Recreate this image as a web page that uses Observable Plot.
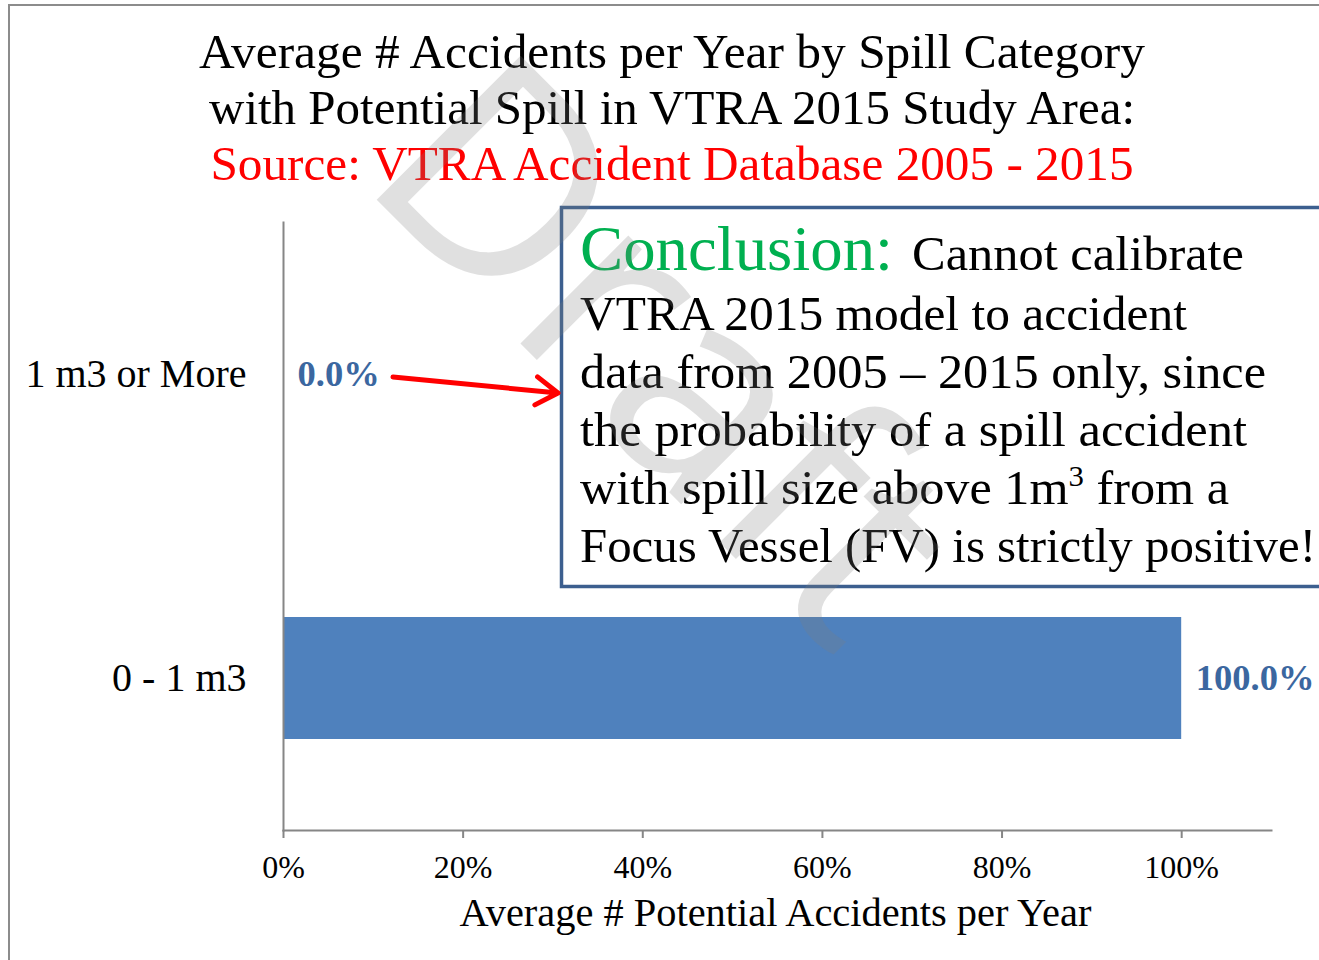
<!DOCTYPE html>
<html>
<head>
<meta charset="utf-8">
<script src="https://cdn.jsdelivr.net/npm/d3@7"></script>
<script src="https://cdn.jsdelivr.net/npm/@observablehq/plot@0.6"></script>
<style>
  html, body { margin: 0; padding: 0; background: #fff; }
  #wrap { position: relative; width: 1319px; height: 960px; overflow: hidden; background: #fff; }
  #chart, #overlay { position: absolute; left: 0; top: 0; }
</style>
</head>
<body>
<div id="wrap">
  <div id="chart"></div>
  <svg id="overlay" width="1319" height="960"></svg>
</div>
<script>
// ---- data ----
const categories = ["1 m3 or More", "0 - 1 m3"];
const shares = [0.0, 1.0];
const xTicks = [0, 0.2, 0.4, 0.6, 0.8, 1.0];
const xLabel = "Average # Potential Accidents per Year";
const titleLines = [
  "Average # Accidents per Year by Spill Category",
  "with Potential Spill in VTRA 2015 Study Area:",
  "Source: VTRA Accident Database 2005 - 2015"
];
const conclusionLead = "Conclusion:";
const conclusionFirst = "Cannot calibrate";
const conclusionLines = [
  "VTRA 2015 model to accident",
  "data from 2005 \u2013 2015 only, since",
  "the probability of a spill accident",
  ["with spill size above 1m", "3", " from a"],
  "Focus Vessel (FV) is strictly positive!"
];
const watermark = "Draft";

const rows = categories.map((c, i) => ({category: c, value: shares[i]}));

// ---- chart ----
const serif = "'Liberation Serif', 'Times New Roman', serif";
const plot = Plot.plot({
  width: 1319,
  height: 960,
  marginLeft: 283,
  marginRight: 48,
  marginTop: 222,
  marginBottom: 130,
  style: {fontFamily: serif, background: "transparent", color: "#000"},
  x: {domain: [0, 1.1]},
  y: {domain: categories, paddingInner: 0.6, paddingOuter: 0.3},
  marks: [
    Plot.barX(rows, {x: "value", y: "category", fill: "#4f81bd"}),
    Plot.frame({anchor: "left", stroke: "#868686", strokeWidth: 2}),
    Plot.frame({anchor: "bottom", stroke: "#868686", strokeWidth: 2}),
    Plot.axisX({ticks: xTicks, tickFormat: d3.format(".0%"), tickSize: 8, tickPadding: 17,
      stroke: "#868686", strokeWidth: 2, fill: "#000", fontSize: 32, label: null}),
    Plot.axisY({tickSize: 0, tickPadding: 37, fontSize: 40, fill: "#000", label: null}),
    Plot.text([xLabel], {frameAnchor: "bottom", dy: 95, dx: -2, lineAnchor: "bottom", fontSize: 40.4, fill: "#000"}),
    Plot.text(rows, {x: "value", y: "category", text: d => d3.format(".1%")(d.value),
      textAnchor: "start", dx: 14, fill: "#3b67a0", fontWeight: "bold", fontSize: 36.6})
  ]
});
document.getElementById("chart").appendChild(plot);

// ---- overlay: frame, title, conclusion box, arrow, watermark ----
const svg = d3.select("#overlay");
svg.append("path").attr("d", "M9,1000 V5 H1330").attr("fill", "none")
  .attr("stroke", "#8c8c8c").attr("stroke-width", 2);

const titleColors = ["#000", "#000", "#ff0000"];
const titleWidths = [946, 926, 923];
titleLines.forEach((t, i) => {
  svg.append("text").attr("x", 672).attr("y", 68 + i * 56)
    .attr("text-anchor", "middle").attr("font-family", serif).attr("font-size", 48)
    .attr("fill", titleColors[i])
    .attr("textLength", titleWidths[i]).attr("lengthAdjust", "spacingAndGlyphs")
    .text(t);
});

// conclusion box
svg.append("rect").attr("x", 561.5).attr("y", 207.5).attr("width", 800).attr("height", 379)
  .attr("fill", "#fff").attr("stroke", "#3c5f8f").attr("stroke-width", 3.5);
svg.append("text").attr("x", 580).attr("y", 270).attr("font-family", serif).attr("font-size", 64)
  .attr("fill", "#00b050").attr("textLength", 313).attr("lengthAdjust", "spacingAndGlyphs")
  .text(conclusionLead);
svg.append("text").attr("x", 912).attr("y", 270).attr("font-family", serif).attr("font-size", 49)
  .attr("fill", "#000").attr("textLength", 332).attr("lengthAdjust", "spacingAndGlyphs")
  .text(conclusionFirst);
const lineWidths = [607, 686, 667, 649, 736];
conclusionLines.forEach((ln, i) => {
  const t = svg.append("text").attr("x", 580).attr("y", 330 + i * 58)
    .attr("font-family", serif).attr("font-size", 49).attr("fill", "#000")
    .attr("textLength", lineWidths[i]).attr("lengthAdjust", "spacingAndGlyphs");
  if (Array.isArray(ln)) {
    t.append("tspan").text(ln[0]);
    t.append("tspan").attr("dy", -18).attr("font-size", 30).text(ln[1]);
    t.append("tspan").attr("dy", 18).text(ln[2]);
  } else {
    t.text(ln);
  }
});

// arrow from the 0.0% label to the box
const xs = plot.scale("x");
const ax1 = xs.apply(0) + 110, ay1 = 377, ax2 = 558, ay2 = 393;
const ang = Math.atan2(ay2 - ay1, ax2 - ax1);
const hl = 26, ha = Math.PI / 5.5;
svg.append("path")
  .attr("d", `M${ax1},${ay1} L${ax2},${ay2} M${ax2 - hl * Math.cos(ang - ha)},${ay2 - hl * Math.sin(ang - ha)} L${ax2},${ay2} L${ax2 - hl * Math.cos(ang + ha)},${ay2 - hl * Math.sin(ang + ha)}`)
  .attr("fill", "none").attr("stroke", "#ff0000").attr("stroke-width", 5)
  .attr("stroke-linecap", "round").attr("stroke-linejoin", "round");

// watermark
svg.append("text").attr("transform", "translate(357,180) rotate(45)")
  .attr("text-anchor", "start")
  .attr("font-family", "'Open Sans', sans-serif").attr("font-weight", 400).attr("font-size", 285)
  .attr("fill", "#7f7f7f").attr("fill-opacity", 0.24)
  .text(watermark);
</script>
</body>
</html>
